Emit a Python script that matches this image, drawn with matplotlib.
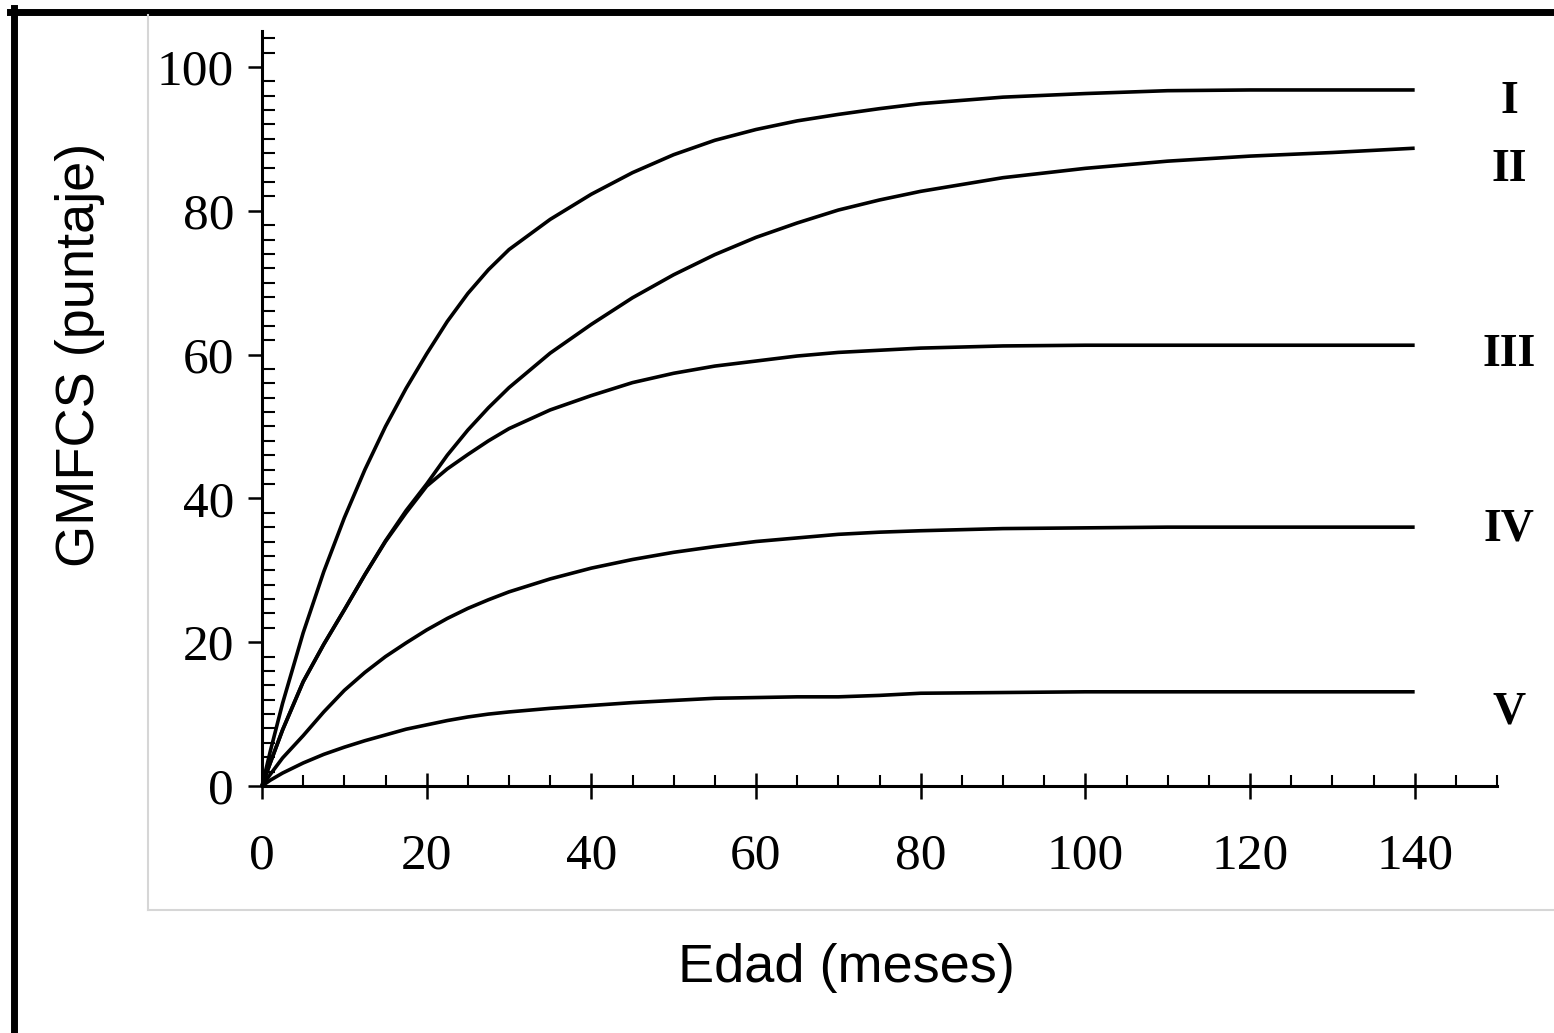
import matplotlib
matplotlib.use("Agg")
import matplotlib.pyplot as plt
from matplotlib.lines import Line2D
from matplotlib.ticker import MultipleLocator

edad = [0, 1, 2.5, 5, 7.5, 10, 12.5, 15, 17.5, 20, 22.5, 25, 27.5, 30, 35, 40, 45, 50,
        55, 60, 65, 70, 75, 80, 90, 100, 110, 120, 130, 140]

# GMFCS (puntaje) per level
nivel_I = [0, 4.8, 11.5, 21.3, 29.8, 37.3, 44, 50, 55.3, 60.1, 64.6, 68.5, 71.8, 74.6, 78.8,
           82.3, 85.3, 87.8, 89.8, 91.3, 92.5, 93.4, 94.2, 94.9, 95.8, 96.3, 96.7, 96.8,
           96.8, 96.8]
nivel_II = [0, 3.2, 7.8, 14.5, 19.7, 24.5, 29.4, 34.1, 38.3, 42, 46, 49.5, 52.6, 55.4, 60.2,
            64.2, 67.9, 71.1, 73.9, 76.3, 78.3, 80.1, 81.5, 82.7, 84.6, 85.9, 86.9, 87.6,
            88.1, 88.7]
nivel_III = [0, 3.2, 7.8, 14.5, 19.7, 24.5, 29.4, 34, 38, 41.7, 44.1, 46.1, 48, 49.7, 52.3,
             54.3, 56.1, 57.4, 58.4, 59.1, 59.8, 60.3, 60.6, 60.9, 61.2, 61.3, 61.3, 61.3,
             61.3, 61.3]
nivel_IV = [0, 1.6, 3.9, 7, 10.3, 13.3, 15.8, 18, 19.9, 21.7, 23.3, 24.7, 25.9, 27, 28.8,
            30.3, 31.5, 32.5, 33.3, 34, 34.5, 35, 35.3, 35.5, 35.8, 35.9, 36, 36, 36, 36]
nivel_V = [0, 0.8, 1.8, 3.2, 4.4, 5.4, 6.3, 7.1, 7.9, 8.5, 9.1, 9.6, 10, 10.3, 10.8,
           11.2, 11.6, 11.9, 12.2, 12.3, 12.4, 12.4, 12.6, 12.9, 13, 13.1, 13.1, 13.1,
           13.1, 13.1]

series = [nivel_I, nivel_II, nivel_III, nivel_IV, nivel_V]
etiquetas = ["I", "II", "III", "IV", "V"]
# vertical nudge of the roman labels (points)
label_dy = [-9, -16, -7, -2, -15]

serif = "Liberation Serif"
sans = "Liberation Sans"

fig = plt.figure(figsize=(15.54, 10.33), dpi=100)
W, H = 1554, 1033

# outer black frame and light grey inner box
fig.add_artist(Line2D([10 / W, 1], [1 - 11.5 / H, 1 - 11.5 / H], color="black", lw=5,
                      transform=fig.transFigure))
fig.add_artist(Line2D([13.5 / W, 13.5 / W], [0, 1 - 8 / H], color="black", lw=5,
                      transform=fig.transFigure))
fig.add_artist(Line2D([148 / W, 148 / W], [1 - 15 / H, 1 - 910 / H], color="#d6d6d6", lw=1.5,
                      transform=fig.transFigure))
fig.add_artist(Line2D([148 / W, 1], [1 - 910 / H, 1 - 910 / H], color="#d6d6d6", lw=1.5,
                      transform=fig.transFigure))

ax = fig.add_axes([262 / W, 1 - 786 / H, (1497 - 262) / W, (786 - 31) / H])
ax.set_xlim(0, 150)
ax.set_ylim(0, 105)

for ys in series:
    ax.plot(edad, ys, color="black", lw=2.6, clip_on=False, solid_capstyle="butt",
            solid_joinstyle="round")

for ys, lab, dy in zip(series, etiquetas, label_dy):
    ax.annotate(lab, xy=(edad[-1], ys[-1]), xytext=(68, dy), textcoords="offset points",
                ha="center", va="center", fontsize=33, fontfamily=serif, fontweight="bold",
                annotation_clip=False)

for side in ["top", "right"]:
    ax.spines[side].set_visible(False)
for side in ["left", "bottom"]:
    ax.spines[side].set_linewidth(2.2)

ax.xaxis.set_major_locator(MultipleLocator(20))
ax.xaxis.set_minor_locator(MultipleLocator(5))
ax.yaxis.set_major_locator(MultipleLocator(20))
ax.yaxis.set_minor_locator(MultipleLocator(2))
ax.set_xticks(range(0, 141, 20))

ax.tick_params(axis="x", which="major", direction="inout", length=19, width=1.8, pad=24)
ax.tick_params(axis="x", which="minor", direction="in", length=8, width=1.5)
ax.tick_params(axis="y", which="major", direction="out", length=10, width=1.8, pad=10)
ax.tick_params(axis="y", which="minor", direction="in", length=9, width=1.5)

for t in ax.get_xticklabels() + ax.get_yticklabels():
    t.set_fontfamily(serif)
    t.set_fontsize(37)

fig.text(846 / W, 1 - 968 / H, "Edad (meses)", ha="center", va="center",
         fontsize=39, fontfamily=sans)
fig.text(80 / W, 1 - 355 / H, "GMFCS (puntaje)", ha="center", va="center",
         rotation=90, fontsize=39, fontfamily=sans)

fig.savefig("out.png", dpi=100)
